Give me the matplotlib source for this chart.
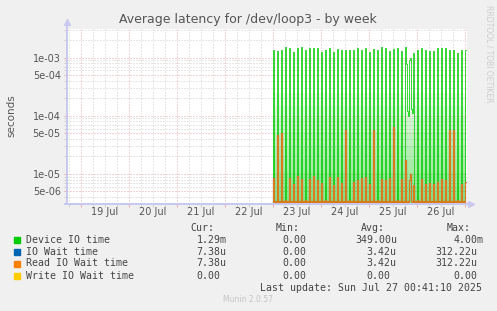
import numpy as np
import matplotlib
matplotlib.use('Agg')
import matplotlib.pyplot as plt
from matplotlib.ticker import FixedLocator, NullFormatter

# time axis: hours since 19 Jul 00:00, 30 min samples (value covers the half hour before)
hours = np.arange(96.0, 193.0, 0.5)

day_labels = ['19 Jul', '20 Jul', '21 Jul', '22 Jul', '23 Jul', '24 Jul', '25 Jul', '26 Jul']

# every 2h there is a burst (seconds)
device_spikes = [1.35e-3, 1.27e-3, 1.32e-3, 1.54e-3, 1.48e-3, 1.22e-3, 1.43e-3, 1.54e-3, 1.37e-3, 1.48e-3,
                 1.44e-3, 1.48e-3, 1.24e-3, 1.37e-3, 1.48e-3, 1.22e-3, 1.41e-3, 1.35e-3, 1.35e-3, 1.33e-3,
                 1.33e-3, 1.48e-3, 1.35e-3, 1.48e-3, 1.22e-3, 1.41e-3, 1.37e-3, 1.54e-3, 1.43e-3, 1.27e-3,
                 1.41e-3, 1.48e-3, 1.27e-3, 1.50e-3, 0.92e-3, 1.20e-3, 1.37e-3, 1.48e-3, 1.37e-3, 1.27e-3,
                 1.27e-3, 1.43e-3, 1.48e-3, 1.43e-3, 1.32e-3, 1.32e-3, 1.20e-3, 1.32e-3, 1.32e-3]
read_spikes = [8.4e-6, 4.7e-5, 5.1e-5, 3.6e-6, 8.4e-6, 6.7e-6, 9.2e-6, 8.1e-6, 3.6e-6, 8.1e-6,
               9.2e-6, 7.9e-6, 6.9e-6, 3.6e-6, 8.8e-6, 6.5e-6, 8.8e-6, 7.1e-6, 5.8e-5, 3.6e-6,
               7.4e-6, 7.9e-6, 8.4e-6, 8.8e-6, 6.7e-6, 5.8e-5, 3.6e-6, 8.1e-6, 7.9e-6, 8.4e-6,
               6.3e-5, 3.6e-6, 8.1e-6, 1.76e-5, 7.9e-6, 6.5e-6, 3.6e-6, 8.1e-6, 6.7e-6, 6.9e-6,
               6.7e-6, 7.4e-6, 8.1e-6, 7.9e-6, 5.8e-5, 5.8e-5, 3.6e-6, 6.7e-6, 7.4e-6]
read_between = 3.5e-6

# busy stretch on 25 Jul evening
extra_hours = [163.0, 163.5, 164.0, 165.0, 165.5, 166.0]
extra_device = [7.8e-4, 1.2e-4, 1.0e-4, 1.0e-3, 1.3e-4, 1.1e-4]
extra_read_hours = [165.0]
extra_read = [1.0e-5]

device = np.zeros(len(hours))
device[1::4] = device_spikes
read = np.zeros(len(hours))
read[1::4] = read_spikes
read[3::4] = read_between
for h, v in zip(extra_hours, extra_device):
    device[np.searchsorted(hours, h)] = v
for h, v in zip(extra_read_hours, extra_read):
    read[np.searchsorted(hours, h)] = v
iowait = read.copy()
write = np.zeros(len(hours))

legend_names = ['Device IO time', 'IO Wait time', 'Read IO Wait time', 'Write IO Wait time']
colors = ['#00CC00', '#0066B3', '#FF8000', '#FFCC00']
cur = ['1.29m', '7.38u', '7.38u', '0.00']
mins = ['0.00', '0.00', '0.00', '0.00']
avgs = ['349.00u', '3.42u', '3.42u', '0.00']
maxs = ['4.00m', '312.22u', '312.22u', '0.00']

W, H = 497, 311
fig = plt.figure(figsize=(W / 100, H / 100), dpi=100, facecolor='#F0F0F0')
ax = fig.add_axes([67 / W, 1 - 203.5 / H, 400 / W, 175 / H])
ax.set_facecolor('white')
ax.set_yscale('log')
ylo, yhi = 3.11e-6, 3.15e-3
ax.set_ylim(ylo, yhi)
ax.set_xlim(-7, 193)

# grid
grid_red = '#E8A8A8'
grid_gray = '#CFCFCF'
dots = dict(linestyle=(0, (1, 2)), linewidth=0.72)
major_y = [5e-6, 1e-5, 5e-5, 1e-4, 5e-4, 1e-3]
minor_y = [m * 10.0 ** e for e in range(-6, -2) for m in range(2, 10) if m != 5]
minor_y = [v for v in minor_y if ylo < v < yhi]
midnights = np.arange(0, 193, 24)
six_h = [h for h in np.arange(-6, 193, 6) if h % 24 != 0]
for v in minor_y:
    ax.axhline(v, color=grid_gray, zorder=0, **dots)
for h in six_h:
    ax.axvline(h, color=grid_gray, zorder=0, **dots)
for v in major_y:
    ax.axhline(v, color=grid_red, zorder=0.5, **dots)
for h in midnights:
    ax.axvline(h, color=grid_red, zorder=0.5, **dots)

ax.yaxis.set_major_locator(FixedLocator(major_y))
ax.set_yticklabels(['5e-06', '1e-05', '5e-05', '1e-04', '5e-04', '1e-03'])
ax.yaxis.set_minor_locator(FixedLocator(minor_y))
ax.yaxis.set_minor_formatter(NullFormatter())
ax.xaxis.set_major_locator(FixedLocator(list(midnights)))
ax.set_xticklabels([''] * len(midnights))
ax.xaxis.set_minor_locator(FixedLocator(six_h))
ax.tick_params(axis='both', which='major', length=2, width=0.7, color=grid_red,
               labelsize=7, labelcolor='#555555', pad=2.5)
ax.tick_params(axis='both', which='minor', length=2, width=0.7, color=grid_gray)
for i, lab in enumerate(day_labels):
    ax.text(24 * i + 12, -0.05, lab, transform=ax.get_xaxis_transform(), ha='center', va='center',
            fontsize=7, color='#555555')

for s in ax.spines.values():
    s.set_visible(False)
axis_col = '#C8C8F0'
ax.plot([0, 0], [0, 1.035], transform=ax.transAxes, color=axis_col, lw=1.4, clip_on=False, zorder=5)
ax.plot([0], [1.035], transform=ax.transAxes, marker='^', ms=4.5, color=axis_col, clip_on=False, zorder=5)
ax.plot([-0.005, 1.01], [0, 0], transform=ax.transAxes, color=axis_col, lw=1.4, clip_on=False, zorder=5)
ax.plot([1.01], [0], transform=ax.transAxes, marker='>', ms=4.5, color=axis_col, clip_on=False, zorder=5)

# faint green haze between bursts (antialiasing of the dense spikes)
for lvl in np.geomspace(ylo * 1.2, 2.5e-4, 9):
    ax.fill_between(hours, ylo, lvl, step='pre', color='#00CC00', alpha=0.065, lw=0, zorder=1)

ax.plot(hours, device, drawstyle='steps-pre', color=colors[0], lw=0.55, zorder=2)
ax.plot(hours, iowait, drawstyle='steps-pre', color=colors[1], lw=0.8, zorder=3)
ax.plot(hours, read, drawstyle='steps-pre', color=colors[2], lw=0.8, alpha=0.85, zorder=4)
ax.plot(hours, write, drawstyle='steps-pre', color=colors[3], lw=0.8, zorder=4)

# title and side texts
fig.text(248 / W, 1 - 19.5 / H, 'Average latency for /dev/loop3 - by week', ha='center', va='center',
         fontsize=9, color='#555555')
fig.text(11 / W, 1 - 116 / H, 'seconds', rotation=90, ha='center', va='center', fontsize=7.5, color='#555555')
fig.text(489 / W, 1 - 5 / H, 'RRDTOOL / TOBI OETIKER', rotation=270, ha='center', va='top',
         fontsize=5.5, color='#CCCCCC')

# legend table
mono = dict(family='DejaVu Sans Mono', fontsize=7.1, color='#444444', va='center')
heads = [('Cur:', 190.7), ('Min:', 276), ('Avg:', 361), ('Max:', 446.7)]
for t, x in heads:
    fig.text(x / W, 1 - 227.7 / H, t, ha='left', **mono)
row_y = [239.7, 251.7, 263.5, 275.7]
cols = [(cur, [196.7, 196.7, 196.7, 196.7]), (mins, [282.7] * 4),
        (avgs, [355, 366.7, 366.7, 366.7]), (maxs, [454, 435.7, 435.7, 453.3])]
for i, name in enumerate(legend_names):
    y = 1 - row_y[i] / H
    fig.patches.append(plt.Rectangle((14 / W, y - 3 / H), 6 / W, 6 / H, transform=fig.transFigure,
                                     color=colors[i], figure=fig))
    fig.text(26 / W, y, name, ha='left', **mono)
    for vals, xs in cols:
        fig.text(xs[i] / W, y, vals[i], ha='left', **mono)
fig.text(482 / W, 1 - 287.7 / H, 'Last update: Sun Jul 27 00:41:10 2025', ha='right', **mono)
fig.text(248 / W, 1 - 300 / H, 'Munin 2.0.57', ha='center', va='center', fontsize=5.5, color='#C4C4C4')

fig.savefig('out.png', dpi=100, facecolor=fig.get_facecolor())
